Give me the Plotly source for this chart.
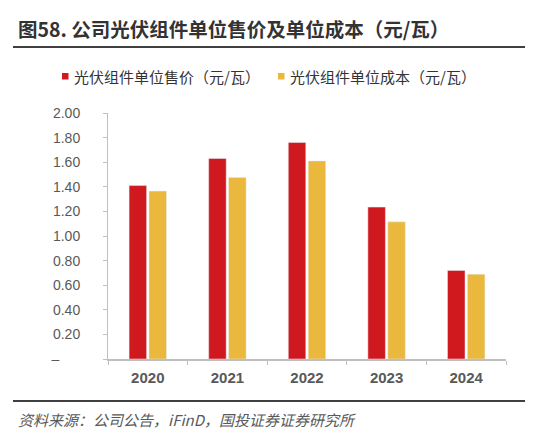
import plotly.graph_objects as go

years = ["2020", "2021", "2022", "2023", "2024"]
price = [1.41, 1.63, 1.76, 1.235, 0.72]
cost = [1.365, 1.475, 1.61, 1.115, 0.69]

y_ticks = [0, 0.2, 0.4, 0.6, 0.8, 1.0, 1.2, 1.4, 1.6, 1.8, 2.0]
y_labels = ["–\u2003\u2002", "0.20", "0.40", "0.60", "0.80", "1.00",
            "1.20", "1.40", "1.60", "1.80", "2.00"]

name_price = "光伏组件单位售价（元/瓦）"
name_cost = "光伏组件单位成本（元/瓦）"
title_text = "图58. 公司光伏组件单位售价及单位成本（元/瓦）"
source_text = "资料来源：公司公告，iFinD，国投证券证券研究所"

RED = "#D0191F"
YELLOW = "#E9B83D"
CJK = "Noto Sans CJK SC"

# plot area in pixels
L, R, T, B = 100, 498, 105, 351
W, H = R - L, B - T


def px(x):
    return (x - L) / W


def py(y):
    return (B - y) / H


fig = go.Figure()
fig.add_trace(go.Bar(x=years, y=price, name=name_price, marker_color=RED,
                     showlegend=False))
fig.add_trace(go.Bar(x=years, y=cost, name=name_cost, marker_color=YELLOW,
                     showlegend=False))

fig.update_layout(
    width=540, height=432,
    margin=dict(l=L, r=540 - R, t=T, b=432 - B),
    paper_bgcolor="white", plot_bgcolor="white",
    barmode="group", bargap=0.5, bargroupgap=0.12,
    font=dict(family=CJK, color="#333333"),
)

fig.update_xaxes(
    showline=True, linecolor="#BFBFBF", linewidth=1.5,
    ticks="outside", ticklen=4, tickcolor="#BFBFBF", tickson="boundaries",
    tickfont=dict(family="Liberation Sans", size=15, color="#595959", weight="bold"),
    ticklabelstandoff=4,
)
fig.update_yaxes(
    range=[0, 2.0], showgrid=False, zeroline=False,
    showline=True, linecolor="#BFBFBF", linewidth=1,
    ticks="outside", ticklen=4, tickcolor="#BFBFBF",
    tickvals=y_ticks, ticktext=y_labels,
    tickfont=dict(family="Liberation Sans", size=14, color="#595959"),
    ticklabelstandoff=20,
)

# title and rules
fig.add_annotation(text="<b>" + title_text + "</b>", xref="paper", yref="paper",
                   x=px(8), y=py(21), xanchor="left", yanchor="middle",
                   showarrow=False, font=dict(family=CJK, size=19.5, color="#333333"))
fig.add_shape(type="line", xref="paper", yref="paper", x0=px(5), x1=px(517),
              y0=py(39), y1=py(39), line=dict(color="#000000", width=1.5))
fig.add_shape(type="line", xref="paper", yref="paper", x0=px(5), x1=px(517),
              y0=py(393), y1=py(393), line=dict(color="#000000", width=1.5))
fig.add_annotation(text="<i>" + source_text + "</i>", xref="paper", yref="paper",
                   x=px(8), y=py(411), xanchor="left", yanchor="middle",
                   showarrow=False, font=dict(family=CJK, size=15, color="#595959"))

# legend
for sx, tx, color, name in [(54, 64, RED, name_price), (270, 280, YELLOW, name_cost)]:
    fig.add_shape(type="rect", xref="paper", yref="paper",
                  x0=px(sx), x1=px(sx + 6.5), y0=py(65), y1=py(71.5),
                  fillcolor=color, line=dict(width=0))
    fig.add_annotation(text=name, xref="paper", yref="paper",
                       x=px(tx), y=py(68), xanchor="left", yanchor="middle",
                       showarrow=False, font=dict(family=CJK, size=15, color="#333333"))

fig.write_html("out.html")
